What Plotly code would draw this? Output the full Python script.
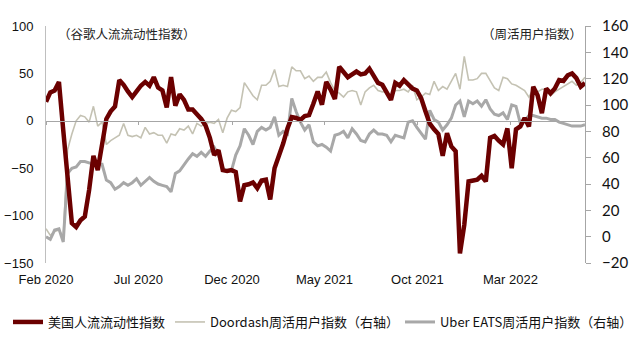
import pandas as pd
import plotly.graph_objects as go

dates = pd.date_range("2020-02-15", periods=126, freq="7D")

mobility = [20, 30, 32, 41, -10, -60, -108, -112, -105, -101,
            -73, -37, -52, -25, 2, 10, 15, 43, 38, 31,
            25, 31, 37, 41, 37, 46, 35, 32, 14, 46,
            16, 28, 22, 12, 12, 7, 2, -5, -18, -36,
            -31, -52, -53, -52, -54, -85, -68, -67, -65, -71,
            -63, -62, -83, -50, -38, -24, -8, 4, 3, 1,
            5, 6, 18, 31, 17, 41, 33, 23, 57, 52,
            46, 49, 52, 49, 50, 55, 47, 40, 38, 30,
            22, 40, 37, 43, 38, 34, 32, 24, 10, -3,
            -9, -14, -37, -13, -27, -32, -140, -110, -64, -63,
            -62, -58, -64, -18, -16, -21, -25, -8, -50, -9,
            -6, 3, -6, 36, 27, 8, 34, 29, 34, 43,
            42, 48, 50, 45, 36, 40]

doordash = [6, 1, 4, 5, 0, 66, 78, 88, 92, 91,
            87, 99, 84, 87, 70, 73, 75, 77, 86, 77,
            76, 77, 75, 83, 78, 79, 77, 77, 71, 78,
            77, 82, 81, 84, 78, 86, 84, 86, 87, 86,
            89, 79, 90, 96, 95, 98, 117, 112, 107, 104,
            115, 115, 118, 127, 114, 115, 114, 129, 126, 126,
            120, 122, 118, 121, 121, 125, 117, 111, 109, 106,
            110, 111, 110, 100, 110, 113, 115, 111, 110, 110,
            106, 111, 111, 112, 110, 115, 104, 106, 109, 108,
            118, 111, 114, 112, 118, 124, 112, 137, 119, 119,
            120, 124, 124, 118, 113, 111, 121, 120, 116, 115,
            113, 111, 106, 112, 110, 112, 112, 107, 110, 112,
            114, 116, 118, 115, 117, 121]

ubereats = [0, -2, 5, 6, -4, 48, 52, 53, 57, 57,
            56, 55, 55, 55, 43, 41, 36, 38, 41, 39,
            41, 44, 39, 42, 45, 42, 40, 39, 38, 34,
            48, 50, 55, 59, 63, 61, 64, 61, 65, 68,
            62, 52, 50, 50, 62, 69, 82, 77, 70, 80,
            83, 81, 83, 91, 77, 80, 78, 105, 95, 87,
            81, 85, 72, 69, 70, 68, 65, 77, 78, 80,
            75, 82, 78, 73, 72, 78, 81, 78, 78, 77,
            72, 77, 76, 75, 87, 88, 83, 78, 74, 96,
            89, 87, 81, 85, 90, 100, 103, 91, 103, 101,
            103, 99, 104, 97, 93, 92, 94, 89, 100, 99,
            86, 88, 92, 92, 91, 90, 90, 89, 89, 87,
            86, 85, 84, 84, 84, 85]

tick_dates = ["2020-02-15", "2020-07-14", "2020-12-13", "2021-05-12", "2021-10-10", "2022-03-10"]
tick_text = ["Feb 2020", "Jul 2020", "Dec 2020", "May 2021", "Oct 2021", "Mar 2022"]

left_ticks = [100, 50, 0, -50, -100, -150]
right_ticks = [160, 140, 120, 100, 80, 60, 40, 20, 0, -20]

names = ["美国人流流动性指数", "Doordash周活用户指数（右轴）", "Uber EATS周活用户指数（右轴）"]

fig = go.Figure()
fig.add_trace(go.Scatter(x=dates, y=doordash, name=names[1], mode="lines",
                         line=dict(color="#C4C2B3", width=1.6), yaxis="y", legend="legend2"))
fig.add_trace(go.Scatter(x=dates, y=ubereats, name=names[2], mode="lines",
                         line=dict(color="#A8A8A8", width=3), yaxis="y", legend="legend3"))
fig.add_trace(go.Scatter(x=dates, y=mobility, name=names[0], mode="lines",
                         line=dict(color="#6B0000", width=4.5), yaxis="y2", legend="legend"))
fig.add_trace(go.Scatter(x=[dates[0]], y=[None], xaxis="x2", yaxis="y", showlegend=False,
                         hoverinfo="skip", mode="lines"))

legfont = dict(family="Noto Sans CJK SC", size=13, color="#111")
def leg(xpx):
    return dict(orientation="h", xref="container", yref="container",
                x=xpx / 640, xanchor="left", y=1 - 322 / 352, yanchor="middle",
                font=legfont, itemwidth=30, bgcolor="rgba(0,0,0,0)", borderwidth=0)

xr = [dates[0], dates[-1]]
fig.update_layout(
    width=640, height=352,
    margin=dict(l=46, r=55, t=26, b=89, autoexpand=False),
    paper_bgcolor="white", plot_bgcolor="white",
    showlegend=True,
    legend=leg(8), legend2=leg(170), legend3=leg(400),
    xaxis=dict(range=xr, tickvals=tick_dates, ticktext=tick_text, showgrid=False,
               showline=False, ticks="", zeroline=False, ticklabelstandoff=7,
               tickfont=dict(family="Liberation Sans, Arial", size=13, color="#111")),
    xaxis2=dict(range=xr, overlaying="x", anchor="free", position=0.6, showgrid=False,
                showline=True, linecolor="#A6A6A6", linewidth=1, ticks="outside",
                ticklen=3, tickcolor="#A6A6A6", tickvals=tick_dates, showticklabels=False,
                zeroline=False),
    yaxis=dict(range=[-20, 160], side="right", tickvals=right_ticks, showgrid=False,
               zeroline=False, showline=True, linecolor="#A6A6A6", linewidth=1,
               ticks="outside", ticklen=5, tickcolor="#A6A6A6", ticklabelstandoff=8,
               tickfont=dict(family="Lato", size=15, color="#111")),
    yaxis2=dict(range=[-150, 100], side="left", overlaying="y", tickvals=left_ticks,
                showgrid=False, zeroline=False, showline=True, linecolor="#BFBFBF",
                linewidth=1, ticks="", ticklabelstandoff=9,
                tickfont=dict(family="Liberation Sans, Arial", size=13, color="#111")),
    annotations=[
        dict(text="（谷歌人流流动性指数）", x=0.018, y=0.97, xref="paper", yref="paper",
             xanchor="left", yanchor="middle", showarrow=False,
             font=dict(family="Noto Sans CJK SC", size=12.5, color="#222")),
        dict(text="（周活用户指数）", x=0.998, y=0.97, xref="paper", yref="paper",
             xanchor="right", yanchor="middle", showarrow=False,
             font=dict(family="Noto Sans CJK SC", size=12.5, color="#222")),
    ],
)

fig.write_html("out.html")
